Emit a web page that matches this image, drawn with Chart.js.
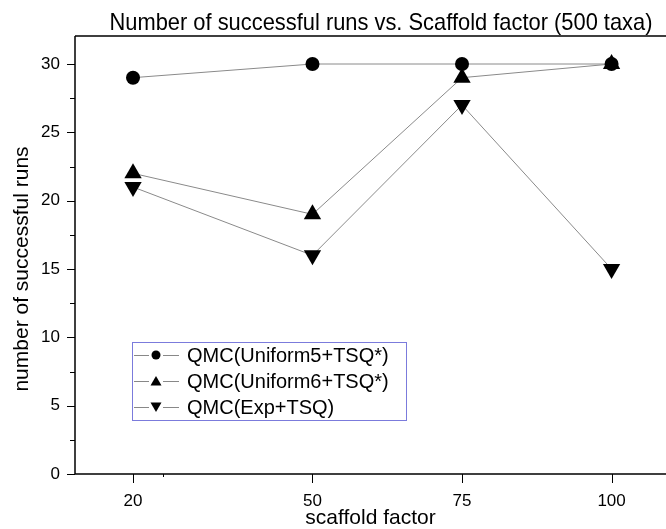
<!DOCTYPE html>
<html>
<head>
<meta charset="utf-8">
<script src="https://cdn.jsdelivr.net/npm/chart.js@4.4.1/dist/chart.umd.min.js"></script>
<style>
  html, body { margin: 0; padding: 0; background: #fff; overflow: hidden; }
  #wrap { width: 666px; height: 529px; }
</style>
</head>
<body>
<div id="wrap"><canvas id="chart"></canvas></div>
<script>
// data
const scaffoldFactors = [20, 50, 75, 100];
const uniform5Runs = [29, 30, 30, 30];
const uniform6Runs = [22, 19, 29, 30];
const expRuns = [21, 16, 27, 15];
const seriesNames = ['QMC(Uniform5+TSQ*)', 'QMC(Uniform6+TSQ*)', 'QMC(Exp+TSQ)'];
const yTickValues = [0, 5, 10, 15, 20, 25, 30];

const FONT = "'Liberation Sans', Arial, sans-serif";

function toPoints(values) {
    return scaffoldFactors.map((x, i) => ({ x: x, y: values[i] }));
}

// draw text squeezed to a given width (the original uses a narrow face)
function fitText(ctx, text, cx, y, width) {
    const w = ctx.measureText(text).width;
    ctx.save();
    ctx.translate(cx, y);
    ctx.scale(width / w, 1);
    ctx.textAlign = 'center';
    ctx.fillText(text, 0, 0);
    ctx.restore();
}

// title, frame, minor ticks, y title and the boxed legend
const decorPlugin = {
    id: 'decor',
    afterDraw(chart) {
        const ctx = chart.ctx;
        const area = chart.chartArea;
        const xs = chart.scales.x;
        const ys = chart.scales.y;
        ctx.save();

        // title
        ctx.fillStyle = '#000';
        ctx.font = '24px ' + FONT;
        ctx.textBaseline = 'alphabetic';
        fitText(ctx, 'Number of successful runs vs. Scaffold factor (500 taxa)', 381, 30, 543);

        // y title
        ctx.save();
        ctx.translate(22, 269);
        ctx.rotate(-Math.PI / 2);
        ctx.font = '21px ' + FONT;
        ctx.textAlign = 'center';
        ctx.textBaseline = 'middle';
        ctx.fillText('number of successful runs', 0, 0);
        ctx.restore();

        // frame
        ctx.strokeStyle = '#000';
        ctx.lineWidth = 1.5;
        ctx.beginPath();
        ctx.moveTo(area.left, area.top);
        ctx.lineTo(area.right, area.top);
        ctx.moveTo(area.left, area.top);
        ctx.lineTo(area.left, area.bottom);
        ctx.lineTo(area.right, area.bottom);
        ctx.stroke();

        // y ticks: major every 5, minor every 2.5
        ctx.lineWidth = 1;
        ctx.beginPath();
        for (let v = 0; v <= 30; v += 2.5) {
            const py = Math.round(ys.getPixelForValue(v)) + 0.5;
            const len = (v % 5 === 0) ? 8 : 5;
            ctx.moveTo(area.left - len, py);
            ctx.lineTo(area.left, py);
        }
        // x ticks
        scaffoldFactors.forEach(v => {
            const px = Math.round(xs.getPixelForValue(v)) + 0.5;
            ctx.moveTo(px, area.bottom);
            ctx.lineTo(px, area.bottom + 9);
        });
        const minorX = xs.getPixelForValue(25);
        ctx.moveTo(Math.round(minorX) + 0.5, area.bottom);
        ctx.lineTo(Math.round(minorX) + 0.5, area.bottom + 3);
        ctx.stroke();

        // legend box
        const lx = 132, ly = 342, lw = 274, lh = 78;
        ctx.strokeStyle = '#7b7bdc';
        ctx.lineWidth = 1;
        ctx.strokeRect(lx + 0.5, ly + 0.5, lw, lh);
        ctx.font = '20px ' + FONT;
        ctx.textAlign = 'left';
        ctx.textBaseline = 'middle';
        chart.data.datasets.forEach((ds, i) => {
            const cy = ly + 13 + i * 26;
            ctx.strokeStyle = '#888';
            ctx.lineWidth = 1;
            ctx.beginPath();
            ctx.moveTo(lx + 2, cy + 0.5);
            ctx.lineTo(lx + 17, cy + 0.5);
            ctx.moveTo(lx + 31, cy + 0.5);
            ctx.lineTo(lx + 47, cy + 0.5);
            ctx.stroke();
            ctx.fillStyle = '#000';
            ctx.beginPath();
            const mx = lx + 24;
            if (ds.pointStyle === 'circle') {
                ctx.arc(mx, cy, 4.5, 0, Math.PI * 2);
            } else if (ds.pointRotation === 180) {
                ctx.moveTo(mx - 5.5, cy - 4.5);
                ctx.lineTo(mx + 5.5, cy - 4.5);
                ctx.lineTo(mx, cy + 5);
            } else {
                ctx.moveTo(mx - 5.5, cy + 4.5);
                ctx.lineTo(mx + 5.5, cy + 4.5);
                ctx.lineTo(mx, cy - 5);
            }
            ctx.closePath();
            ctx.fill();
            ctx.fillText(ds.label, lx + 55, cy + 1);
        });
        ctx.restore();
    }
};

const commonDs = {
    borderColor: '#8a8a8a',
    borderWidth: 1,
    pointBackgroundColor: '#000',
    pointBorderColor: '#000',
    pointBorderWidth: 0,
    tension: 0,
    fill: false,
    clip: false
};

new Chart(document.getElementById('chart'), {
    type: 'line',
    data: {
        datasets: [
            Object.assign({}, commonDs, {
                label: seriesNames[0], data: toPoints(uniform5Runs),
                pointStyle: 'circle', pointRadius: 7, pointRotation: 0
            }),
            Object.assign({}, commonDs, {
                label: seriesNames[1], data: toPoints(uniform6Runs),
                pointStyle: 'triangle', pointRadius: 10, pointRotation: 0
            }),
            Object.assign({}, commonDs, {
                label: seriesNames[2], data: toPoints(expRuns),
                pointStyle: 'triangle', pointRadius: 10, pointRotation: 180
            })
        ]
    },
    options: {
        responsive: true,
        maintainAspectRatio: false,
        animation: false,
        events: [],
        layout: { autoPadding: false, padding: { top: 36, right: 0, left: 0, bottom: 0 } },
        plugins: {
            legend: { display: false },
            title: { display: false },
            tooltip: { enabled: false }
        },
        scales: {
            x: {
                type: 'linear',
                min: 10.3,
                max: 109.1,
                afterBuildTicks(scale) {
                    scale.ticks = scaffoldFactors.map(v => ({ value: v }));
                },
                afterFit(scale) {
                    scale.height = 55;
                    scale.paddingLeft = 0;
                    scale.paddingRight = 0;
                },
                grid: { display: false, drawTicks: false },
                border: { display: false },
                ticks: {
                    color: '#000',
                    font: { family: FONT, size: 17 },
                    padding: 17,
                    maxRotation: 0,
                    autoSkip: false
                },
                title: {
                    display: true,
                    text: 'scaffold factor',
                    color: '#000',
                    font: { family: FONT, size: 21 },
                    padding: { top: 0, bottom: -2 }
                }
            },
            y: {
                min: 0,
                max: 32.05,
                afterBuildTicks(scale) {
                    scale.ticks = yTickValues.map(v => ({ value: v }));
                },
                afterFit(scale) {
                    scale.width = 75;
                    scale.paddingTop = 0;
                    scale.paddingBottom = 0;
                },
                grid: { display: false, drawTicks: false },
                border: { display: false },
                ticks: {
                    color: '#000',
                    font: { family: FONT, size: 17 },
                    padding: 15
                }
            }
        }
    },
    plugins: [decorPlugin]
});
</script>
</body>
</html>
